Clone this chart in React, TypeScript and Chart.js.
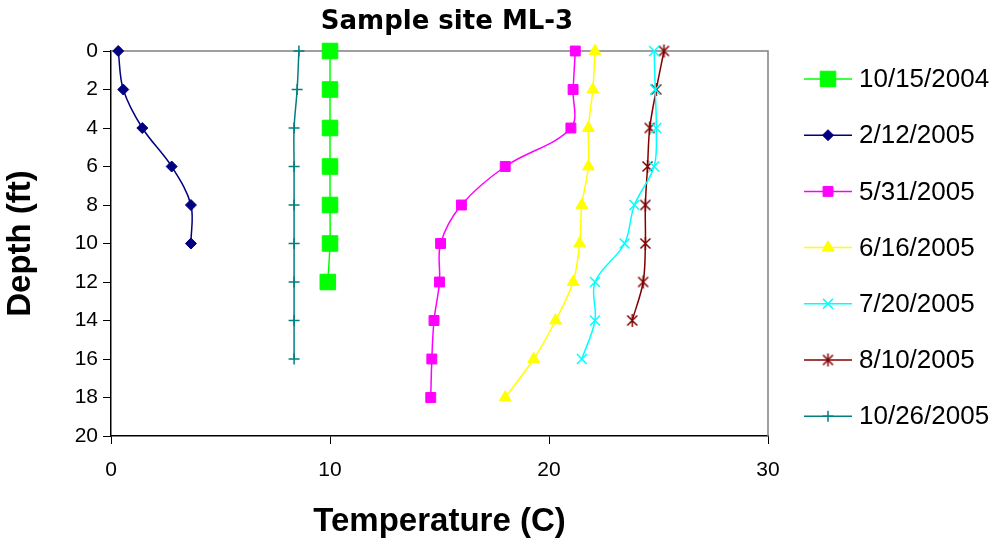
import React, { useEffect, useRef } from 'react';
import { Chart, registerables } from 'chart.js';
import { drawPoint } from 'chart.js/helpers';

Chart.register(...registerables);

const chartTitle = 'Sample site ML-3';
const xAxisTitle = 'Temperature (C)';
const yAxisTitle = 'Depth (ft)';

const depths = [0, 2, 4, 6, 8, 10, 12, 14, 16, 18];

const seriesLabels = ['10/15/2004', '2/12/2005', '5/31/2005', '6/16/2005', '7/20/2005', '8/10/2005', '10/26/2005'];

const temp20041015 = [10.0, 10.0, 10.0, 10.0, 10.0, 10.0, 9.9];
const temp20050212 = [0.33, 0.56, 1.43, 2.77, 3.65, 3.65];
const temp20050531 = [21.2, 21.1, 21.0, 18.0, 16.0, 15.05, 15.0, 14.75, 14.65, 14.6];
const temp20050616 = [22.1, 22.0, 21.8, 21.8, 21.5, 21.4, 21.1, 20.3, 19.3, 18.0];
const temp20050720 = [24.8, 24.85, 24.9, 24.8, 23.9, 23.45, 22.1, 22.1, 21.5];
const temp20050810 = [25.25, 24.9, 24.6, 24.5, 24.4, 24.4, 24.3, 23.8];
const temp20051026 = [8.58, 8.5, 8.36, 8.36, 8.36, 8.36, 8.36, 8.36, 8.36];

const xTicks = [0, 10, 20, 30];
const yTicks = [0, 2, 4, 6, 8, 10, 12, 14, 16, 18, 20];

const seriesTemps = [temp20041015, temp20050212, temp20050531, temp20050616, temp20050720, temp20050810, temp20051026];
const seriesColors = ['#00FF00', '#000080', '#FF00FF', '#FFFF00', '#00FFFF', '#800000', '#008080'];
const seriesStyles: any[] = ['rect', 'rectRot', 'rect', 'triangle', 'crossRot', 'asterisk', 'cross'];
const seriesRadii = [11, 5.5, 7, 6.8, 7, 6.5, 5.5];
const seriesPointBorder = [1, 1, 1, 1, 1.5, 1.5, 1.5];

function makeAsterisk(color: string) {
  const c = document.createElement('canvas');
  c.width = 15;
  c.height = 15;
  const g = c.getContext('2d')!;
  g.strokeStyle = color;
  g.lineWidth = 1.5;
  g.beginPath();
  g.moveTo(2.5, 2.5); g.lineTo(12.5, 12.5);
  g.moveTo(12.5, 2.5); g.lineTo(2.5, 12.5);
  g.moveTo(7.5, 1); g.lineTo(7.5, 14);
  g.stroke();
  return c;
}

const decorPlugin = {
  id: 'decor',
  beforeDatasetsDraw(chart: any) {
    const { ctx, chartArea } = chart;
    ctx.save();
    ctx.strokeStyle = '#808080';
    ctx.lineWidth = 1.5;
    ctx.beginPath();
    ctx.moveTo(chartArea.left, chartArea.top);
    ctx.lineTo(chartArea.right, chartArea.top);
    ctx.lineTo(chartArea.right, chartArea.bottom);
    ctx.stroke();
    ctx.restore();
  },
  afterDraw(chart: any) {
    const { ctx } = chart;
    ctx.save();
    ctx.fillStyle = '#000';
    ctx.font = 'bold 26px "DejaVu Sans"';
    ctx.textAlign = 'center';
    ctx.textBaseline = 'alphabetic';
    ctx.fillText(chartTitle, 447, 29);
    const ds = chart.data.datasets;
    ds.forEach((d: any, i: number) => {
      const y = 79 + i * 56.2;
      ctx.strokeStyle = d.borderColor;
      ctx.lineWidth = 1.5;
      ctx.beginPath();
      ctx.moveTo(804, y);
      ctx.lineTo(852, y);
      ctx.stroke();
      ctx.fillStyle = d.pointBackgroundColor;
      ctx.strokeStyle = d.pointBorderColor;
      ctx.lineWidth = d.pointBorderWidth;
      drawPoint(ctx, { pointStyle: d.pointStyle, rotation: 0, radius: d.pointRadius, borderWidth: d.pointBorderWidth }, 828, y);
      ctx.fillStyle = '#000';
      ctx.font = '26px "Liberation Sans"';
      ctx.textAlign = 'left';
      ctx.textBaseline = 'middle';
      ctx.fillText(d.label, 859, y + 1);
    });
    ctx.restore();
  },
};

export default function App() {
  const ref = useRef<HTMLCanvasElement | null>(null);

  useEffect(() => {
    document.body.style.margin = '0';
    const canvas = ref.current;
    if (!canvas) return;
    const datasets = seriesLabels.map((label, i) => ({
      label,
      data: seriesTemps[i].map((t, j) => ({ x: t, y: depths[j] })),
      showLine: true,
      borderColor: seriesColors[i],
      backgroundColor: seriesColors[i],
      borderWidth: 1.5,
      pointStyle: seriesStyles[i] === 'asterisk' ? makeAsterisk(seriesColors[i]) : seriesStyles[i],
      pointRadius: seriesRadii[i],
      pointBackgroundColor: seriesColors[i],
      pointBorderColor: seriesColors[i],
      pointBorderWidth: seriesPointBorder[i],
      tension: 0.35,
      clip: false,
    }));
    const chart = new Chart(canvas, {
      type: 'scatter',
      data: { datasets },
      options: {
        animation: false,
        responsive: false,
        devicePixelRatio: 1,
        layout: { padding: { top: 51, right: 231, left: 0, bottom: 0 } },
        plugins: { legend: { display: false }, title: { display: false }, tooltip: { enabled: false } },
        scales: {
          x: {
            type: 'linear',
            min: 0,
            max: 30,
            afterFit: (s: any) => { s.height = 110; },
            afterBuildTicks: (s: any) => { s.ticks = xTicks.map((v) => ({ value: v })); },
            ticks: { font: { family: 'Liberation Sans', size: 21 }, color: '#000', padding: 14 },
            grid: { drawOnChartArea: false, drawTicks: true, tickLength: 8, color: '#000', lineWidth: 1 },
            border: { display: true, color: '#000', width: 1.5 },
            title: { display: true, text: xAxisTitle, color: '#000', font: { family: 'Liberation Sans', size: 33, weight: 'bold', lineHeight: 1.2 }, padding: { top: 0, bottom: 4 } },
          },
          y: {
            type: 'linear',
            reverse: true,
            min: 0,
            max: 20,
            afterFit: (s: any) => { s.width = 111; },
            afterBuildTicks: (s: any) => { s.ticks = yTicks.map((v) => ({ value: v })); },
            ticks: { font: { family: 'Liberation Sans', size: 21 }, color: '#000', padding: 5 },
            grid: { drawOnChartArea: false, drawTicks: true, tickLength: 8, color: '#000', lineWidth: 1 },
            border: { display: true, color: '#000', width: 1.5 },
            title: { display: true, text: yAxisTitle, color: '#000', font: { family: 'Liberation Sans', size: 33, weight: 'bold', lineHeight: 1.2 }, padding: { top: 1, bottom: 0 } },
          },
        },
      },
      plugins: [decorPlugin],
    } as any);
    return () => chart.destroy();
  }, []);

  return (
    <div style={{ width: 999, height: 546 }}>
      <canvas ref={ref} width={999} height={546} style={{ display: 'block' }} />
    </div>
  );
}
